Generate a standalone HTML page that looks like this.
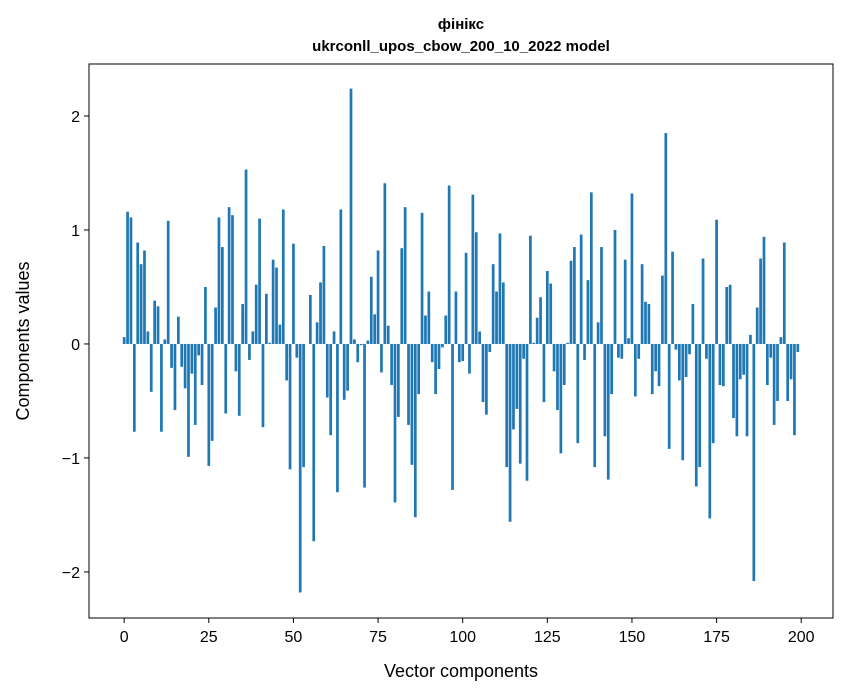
<!DOCTYPE html>
<html><head><meta charset="utf-8"><style>
html,body{margin:0;padding:0;background:#fff;}
svg{display:block;font-family:"Liberation Sans","DejaVu Sans",sans-serif;}
</style></head><body>
<svg id="chart" width="847" height="696" viewBox="0 0 847 696">
<text x="461" y="29" text-anchor="middle" font-size="15" font-weight="bold">фінікс</text>
<text x="461" y="51" text-anchor="middle" font-size="15" font-weight="bold">ukrconll_upos_cbow_200_10_2022 model</text>
<g id="bars"></g>
<rect x="89" y="64" width="744" height="554" fill="none" stroke="#000" stroke-width="1"/>
<g id="xticks"></g>
<g id="yticks"></g>
<text x="461" y="677" text-anchor="middle" font-size="18">Vector components</text>
<text transform="translate(29,341) rotate(-90)" text-anchor="middle" font-size="18">Components values</text>
</svg>
<script>
const values = [
0.06,1.16,1.11,-0.77,0.89,0.70,0.82,0.11,-0.42,0.38,
0.33,-0.77,0.04,1.08,-0.21,-0.58,0.24,-0.20,-0.39,-0.99,
-0.26,-0.71,-0.10,-0.36,0.50,-1.07,-0.85,0.32,1.11,0.85,
-0.61,1.20,1.13,-0.24,-0.63,0.35,1.53,-0.14,0.11,0.52,
1.10,-0.73,0.44,0.01,0.74,0.67,0.17,1.18,-0.32,-1.10,
0.88,-0.12,-2.18,-1.08,0.00,0.43,-1.73,0.19,0.54,0.86,
-0.47,-0.80,0.11,-1.30,1.18,-0.49,-0.41,2.24,0.04,-0.16,
-0.01,-1.26,0.03,0.59,0.26,0.82,-0.25,1.41,0.16,-0.36,
-1.39,-0.64,0.84,1.20,-0.71,-1.06,-1.52,-0.44,1.15,0.25,
0.46,-0.16,-0.44,-0.22,-0.03,0.25,1.39,-1.28,0.46,-0.16,
-0.15,0.80,-0.26,1.31,0.98,0.11,-0.51,-0.62,-0.07,0.70,
0.46,0.97,0.54,-1.08,-1.56,-0.75,-0.57,-1.05,-0.13,-1.20,
0.95,0.01,0.23,0.41,-0.51,0.64,0.53,-0.24,-0.58,-0.96,
-0.36,0.01,0.73,0.85,-0.87,0.96,-0.14,0.56,1.33,-1.08,
0.19,0.85,-0.81,-1.19,-0.44,1.00,-0.12,-0.13,0.74,0.05,
1.32,-0.46,-0.13,0.70,0.37,0.35,-0.44,-0.24,-0.37,0.60,
1.85,-0.92,0.81,-0.05,-0.32,-1.02,-0.29,-0.09,0.35,-1.25,
-1.08,0.75,-0.13,-1.53,-0.87,1.09,-0.36,-0.37,0.50,0.52,
-0.65,-0.81,-0.31,-0.27,-0.81,0.08,-2.08,0.32,0.75,0.94,
-0.36,-0.12,-0.71,-0.50,0.06,0.89,-0.50,-0.31,-0.80,-0.07
];
const xTickLabels = [0,25,50,75,100,125,150,175,200];
const yTickLabels = [-2,-1,0,1,2];

const NS = "http://www.w3.org/2000/svg";
const L=89,R=833,T=64,B=618;
const xMin=-10.39,xMax=209.39,yMin=-2.404,yMax=2.456;
const xs = v => L + (v - xMin) / (xMax - xMin) * (R - L);
const ys = v => B - (v - yMin) / (yMax - yMin) * (B - T);

const barsG = document.getElementById('bars');
values.forEach((v,i)=>{
  const r = document.createElementNS(NS,'rect');
  const x0 = xs(i-0.4), x1 = xs(i+0.4);
  const y0 = ys(Math.max(v,0)), y1 = ys(Math.min(v,0));
  r.setAttribute('x', x0);
  r.setAttribute('width', x1-x0);
  r.setAttribute('y', y0);
  r.setAttribute('height', Math.max(y1-y0,0.01));
  r.setAttribute('fill', '#1f77b4');
  
  
  barsG.appendChild(r);
});

const xg = document.getElementById('xticks');
xTickLabels.forEach(t=>{
  const x = xs(t);
  const ln = document.createElementNS(NS,'line');
  ln.setAttribute('x1',x);ln.setAttribute('x2',x);ln.setAttribute('y1',B);ln.setAttribute('y2',B+5);
  ln.setAttribute('stroke','#000');
  
  
  xg.appendChild(ln);
  const tx = document.createElementNS(NS,'text');
  tx.setAttribute('x',x);tx.setAttribute('y',B+24);tx.setAttribute('text-anchor','middle');tx.setAttribute('font-size','16');
  tx.textContent = t;
  
  
  xg.appendChild(tx);
});

const yg = document.getElementById('yticks');
yTickLabels.forEach(t=>{
  const y = ys(t);
  const ln = document.createElementNS(NS,'line');
  ln.setAttribute('x1',L-5);ln.setAttribute('x2',L);ln.setAttribute('y1',y);ln.setAttribute('y2',y);
  ln.setAttribute('stroke','#000');
  
  
  yg.appendChild(ln);
  const tx = document.createElementNS(NS,'text');
  tx.setAttribute('x',L-9);tx.setAttribute('y',y+6);tx.setAttribute('text-anchor','end');tx.setAttribute('font-size','16');
  tx.textContent = t < 0 ? '\u2212' + Math.abs(t) : String(t);
  
  
  yg.appendChild(tx);
});
</script>
</body></html>
